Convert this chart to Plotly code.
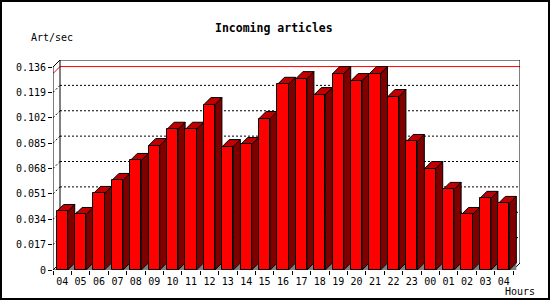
import plotly.graph_objects as go

# ---- data ----
hours = ["04", "05", "06", "07", "08", "09", "10", "11", "12", "13", "14", "15",
         "16", "17", "18", "19", "20", "21", "22", "23", "00", "01", "02", "03", "04"]
values = [0.0392, 0.0372, 0.0513, 0.0600, 0.0734, 0.0834, 0.0943, 0.0943, 0.1108,
          0.0827, 0.0841, 0.1015, 0.1244, 0.1282, 0.1175, 0.1316, 0.1269, 0.1316,
          0.1162, 0.0861, 0.0680, 0.0540, 0.0372, 0.0480, 0.0446]
y_ticks = [0, 0.017, 0.034, 0.051, 0.068, 0.085, 0.102, 0.119, 0.136]
y_tick_labels = ["0", "0.017", "0.034", "0.051", "0.068", "0.085", "0.102", "0.119", "0.136"]
title = "Incoming articles"
y_title = "Art/sec"
x_title = "Hours"

# ---- geometry ----
W, H = 550, 300
ML, MR, MT, MB = 53, 30, 60, 30
PW, PH = W - ML - MR, H - MT - MB
DEPTH = 7
n = len(values)
ppc = (PW - DEPTH) / n
dx = DEPTH / ppc
ymax = y_ticks[-1]
ppy = (PH - DEPTH) / ymax
dy = DEPTH / ppy
bw = 0.6

FRONT = "#ff0000"
TOP = "#c00000"
SIDE = "#800000"
FLOOR = "#808080"
FONT = "DejaVu Sans Mono"

x = list(range(n))

def px(xp):
    return (xp - ML) / PW

def py(yp):
    return (H - MB - yp) / PH

shapes = []
x0, x1 = -0.5, n - 0.5

def line(xa, ya, xb, yb, color="black", dash="solid", width=1):
    shapes.append(dict(type="line", xref="x", yref="y", x0=xa, y0=ya, x1=xb, y1=yb,
                       line=dict(color=color, width=width, dash=dash), layer="below"))

# back wall gridlines (dotted)
for t in y_ticks[1:-1]:
    line(x0, t, x0 + dx, t + dy, dash="2px,2px")
    line(x0 + dx, t + dy, x1 + dx, t + dy, dash="2px,2px")

# max line (red)
vmax = max(values)
line(x0, vmax, x0 + dx, vmax + dy, color="#ff0000")
line(x0 + dx, vmax + dy, x1 + dx, vmax + dy, color="#ff0000")

# frame
line(x0, 0, x0, ymax)
line(x0, ymax, x0 + dx, ymax + dy)
line(x0 + dx, dy, x0 + dx, ymax + dy)
line(x0 + dx, ymax + dy, x1 + dx, ymax + dy)
line(x1 + dx, dy, x1 + dx, ymax + dy)
line(x0, 0, x1, 0)
line(x0, 0, x0 + dx, dy)
line(x1, 0, x1 + dx, dy)

# bar 3D faces
def path(pts):
    return "M " + " L ".join(f"{a},{b}" for a, b in pts) + " Z"

for i, v in zip(x, values):
    xl, xr = i - bw / 2, i + bw / 2
    shapes.append(dict(type="path", xref="x", yref="y", layer="below",
                       path=path([(xr, 0), (xr + dx, 0), (xr + dx, dy)]),
                       fillcolor=FLOOR, line=dict(width=0)))
    shapes.append(dict(type="path", xref="x", yref="y", layer="below",
                       path=path([(xr, 0), (xr + dx, dy), (xr + dx, v + dy), (xr, v)]),
                       fillcolor=SIDE, line=dict(color="black", width=1)))
    shapes.append(dict(type="path", xref="x", yref="y", layer="below",
                       path=path([(xl, v), (xl + dx, v + dy), (xr + dx, v + dy), (xr, v)]),
                       fillcolor=TOP, line=dict(color="black", width=1)))

# outer border
shapes.append(dict(type="rect", xref="paper", yref="paper",
                   x0=px(1), x1=px(W - 1), y0=py(H - 1), y1=py(1),
                   line=dict(color="black", width=2), layer="above"))

fig = go.Figure()
fig.add_trace(go.Bar(x=x, y=values, width=bw,
                     marker=dict(color=FRONT, line=dict(color="black", width=1)),
                     hoverinfo="skip"))

annotations = [
    dict(text="<b>" + title + "</b>", x=px(274), y=py(28), xref="paper", yref="paper",
         showarrow=False, xanchor="center", yanchor="middle",
         font=dict(family=FONT, size=11.5, color="black")),
    dict(text=y_title, x=px(29), y=py(38), xref="paper", yref="paper",
         showarrow=False, xanchor="left", yanchor="middle",
         font=dict(family=FONT, size=10, color="black")),
    dict(text=x_title, x=px(503), y=py(291), xref="paper", yref="paper",
         showarrow=False, xanchor="left", yanchor="middle",
         font=dict(family=FONT, size=10, color="black")),
]

fig.update_layout(
    width=W, height=H,
    margin=dict(l=ML, r=MR, t=MT, b=MB, autoexpand=False),
    paper_bgcolor="white", plot_bgcolor="white",
    showlegend=False, shapes=shapes, annotations=annotations,
    xaxis=dict(range=[x0, x1 + dx], tickmode="array", tickvals=x, ticktext=hours,
               ticks="outside", ticklen=2, tickcolor="rgba(0,0,0,0)",
               minor=dict(tickmode="array", tickvals=[k - 0.5 for k in range(n + 1)],
                          ticks="outside", ticklen=4, tickcolor="black", tickwidth=1,
                          showgrid=False),
               showgrid=False, zeroline=False, showline=False, fixedrange=True,
               tickfont=dict(family=FONT, size=10, color="black")),
    yaxis=dict(range=[0, ymax + dy], tickmode="array", tickvals=y_ticks,
               ticktext=y_tick_labels, ticks="outside", ticklen=4, tickcolor="black",
               showgrid=False, zeroline=False, showline=False, fixedrange=True,
               tickfont=dict(family=FONT, size=10, color="black")),
    bargap=0,
)

fig.write_html("out.html")
